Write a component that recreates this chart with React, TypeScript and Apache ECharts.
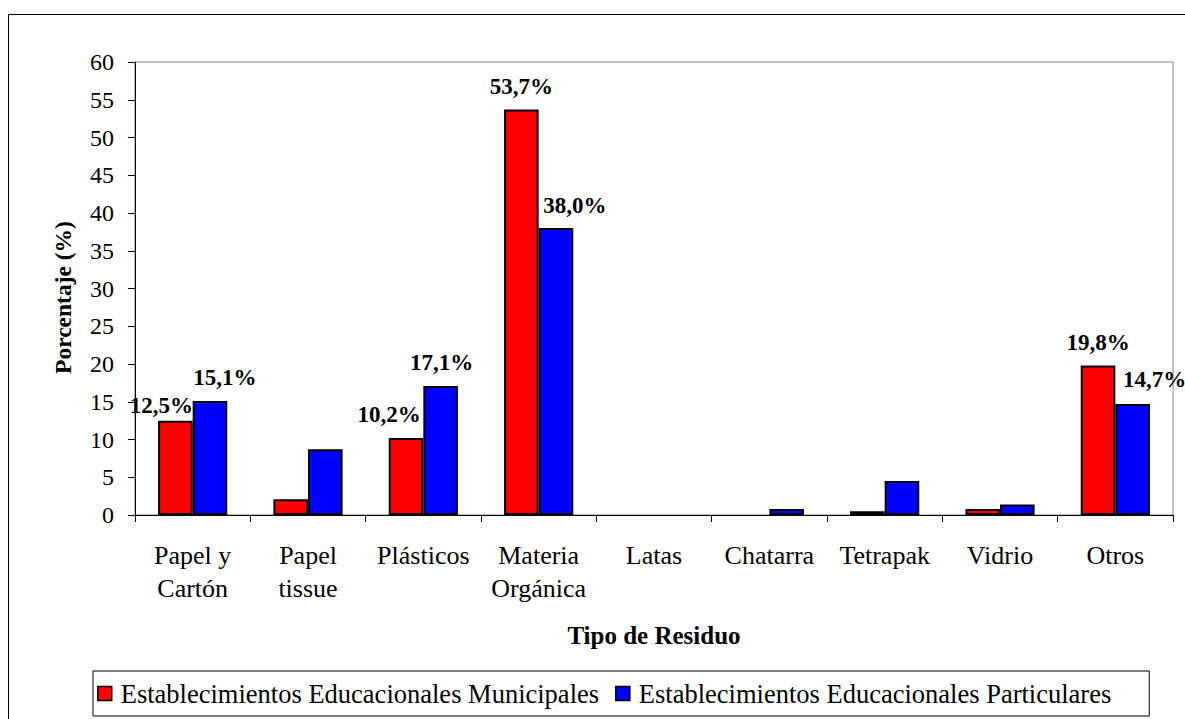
import React, { useEffect, useRef } from "react";
import * as echarts from "echarts";

const categories = [
  "Papel y\nCartón",
  "Papel\ntissue",
  "Plásticos",
  "Materia\nOrgánica",
  "Latas",
  "Chatarra",
  "Tetrapak",
  "Vidrio",
  "Otros",
];
const municipales = [12.5, 2.1, 10.2, 53.7, 0, 0, 0.5, 0.8, 19.8];
const particulares = [15.1, 8.7, 17.1, 38.0, 0, 0.8, 4.5, 1.4, 14.7];
// which bars carry a value label, and the label's horizontal shift
const municipalesLabelShift: (number | null)[] = [-14, null, -17, 0, null, null, null, null, 0];
const particularesLabelShift: (number | null)[] = [15, null, 1, 19, null, null, null, null, 22];
const seriesNames = [
  "Establecimientos Educacionales Municipales",
  "Establecimientos Educacionales Particulares",
];
const yTicks = { min: 0, max: 60, interval: 5 };

const FONT = "Liberation Serif";

function buildData(values: number[], shifts: (number | null)[], extraY: number[]) {
  return values.map((v, i) => {
    const s = shifts[i];
    const item: any = { value: v };
    if (v === 0) item.itemStyle = { borderWidth: 0 };
    if (s === null) {
      item.label = { show: false };
      return item;
    }
    item.label = {
      show: true,
      position: "top",
      distance: 5,
      offset: [s, extraY[i]],
      formatter: () => v.toFixed(1).replace(".", ",") + "%",
      fontFamily: FONT,
      fontWeight: "bold",
      fontSize: 23,
      color: "#000",
    };
    return item;
  });
}

export default function App() {
  const ref = useRef<HTMLDivElement>(null);
  useEffect(() => {
    if (!ref.current) return;
    const chart = echarts.init(ref.current, null, { renderer: "svg" });
    const mY = [1, 0, -7, -7, 0, 0, 0, 0, -7];
    const pY = [-7, 0, -7, -6, 0, 0, 0, 0, -8];
    chart.setOption({
      animation: false,
      backgroundColor: "#fff",
      textStyle: { fontFamily: FONT, color: "#000" },
      graphic: [
        {
          type: "rect",
          shape: { x: 8.5, y: 14.5, width: 1300, height: 900 },
          style: { fill: "none", stroke: "#000", lineWidth: 1 },
          silent: true,
          z: -10,
        },
      ],
      grid: {
        left: 135,
        top: 62,
        right: 12,
        bottom: 204,
        show: true,
        borderColor: "#808080",
        borderWidth: 1,
        containLabel: false,
      },
      legend: {
        left: 93,
        top: 671,
        orient: "horizontal",
        padding: [9, 38, 9, 4],
        borderColor: "#000",
        borderWidth: 1,
        itemWidth: 14,
        itemHeight: 14,
        itemGap: 16,
        icon: "rect",
        itemStyle: { borderColor: "#000", borderWidth: 1.5 },
        textStyle: {
          fontFamily: FONT,
          fontSize: 26.5,
          color: "#000",
          padding: [0, 0, 0, 4],
        },
        data: seriesNames,
      },
      xAxis: {
        type: "category",
        data: categories,
        name: "Tipo de Residuo",
        nameLocation: "middle",
        nameGap: 108,
        nameTextStyle: { fontFamily: FONT, fontWeight: "bold", fontSize: 25, color: "#000" },
        axisLine: { lineStyle: { color: "#000", width: 1 } },
        axisTick: { show: true, length: 7, lineStyle: { color: "#000" } },
        axisLabel: {
          interval: 0,
          margin: 24,
          fontFamily: FONT,
          fontSize: 26,
          lineHeight: 33,
          color: "#000",
        },
        splitLine: { show: false },
      },
      yAxis: {
        type: "value",
        min: yTicks.min,
        max: yTicks.max,
        interval: yTicks.interval,
        name: "Porcentaje (%)",
        nameLocation: "middle",
        nameGap: 60,
        nameTextStyle: {
          fontFamily: FONT,
          fontWeight: "bold",
          fontSize: 23.5,
          color: "#000",
          padding: [0, 18, 0, 0],
        },
        axisLine: { show: true, lineStyle: { color: "#000", width: 1 } },
        axisTick: { show: true, length: 7, lineStyle: { color: "#000" } },
        axisLabel: { margin: 21, fontFamily: FONT, fontSize: 24, color: "#000" },
        splitLine: { show: false },
      },
      series: [
        {
          name: seriesNames[0],
          type: "bar",
          barGap: "0%",
          barCategoryGap: "40%",
          itemStyle: { color: "#FF0000", borderColor: "#000", borderWidth: 2 },
          data: buildData(municipales, municipalesLabelShift, mY),
        },
        {
          name: seriesNames[1],
          type: "bar",
          barGap: "0%",
          barCategoryGap: "40%",
          itemStyle: { color: "#0000FF", borderColor: "#000", borderWidth: 2 },
          data: buildData(particulares, particularesLabelShift, pY),
        },
      ],
    });
    return () => chart.dispose();
  }, []);
  return (
    <div
      ref={ref}
      style={{ position: "absolute", left: 0, top: 0, width: 1185, height: 719 }}
    />
  );
}
